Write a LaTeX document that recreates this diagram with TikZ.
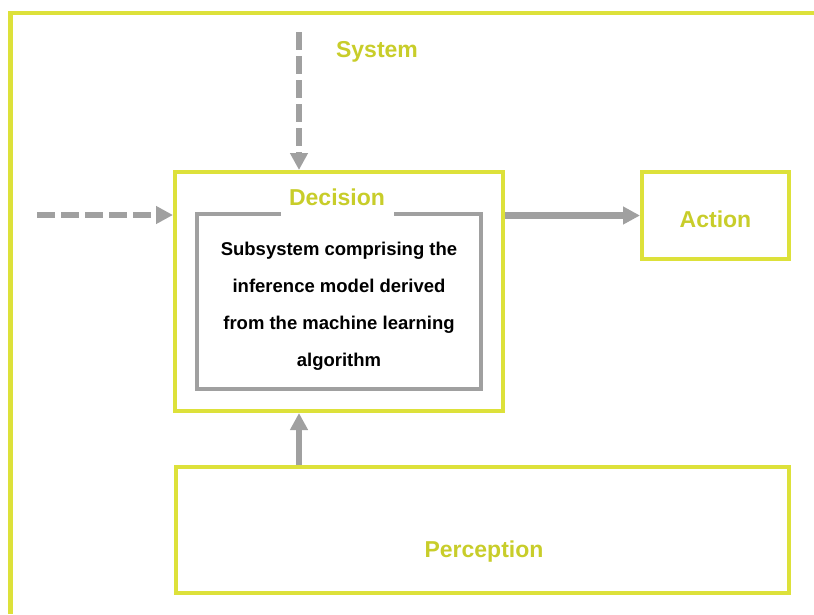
\documentclass[tikz,border=0pt]{standalone}
\usepackage{fontspec}
\setmainfont{Liberation Sans}
\usetikzlibrary{arrows.meta}

\definecolor{lime}{HTML}{DDE13A}
\definecolor{limetext}{HTML}{C8CD2A}
\definecolor{greyline}{HTML}{A0A0A0}

\tikzset{
  box/.style={draw=lime, line width=4pt, minimum width=#1},
  title/.style={text=limetext, font=\bfseries\fontsize{23}{27}\selectfont},
  arr/.style={draw=greyline, line width=6.5pt, -{Triangle[length=17pt, width=17pt]}},
  dasharr/.style={arr, dash pattern=on 18pt off 6pt}
}

\begin{document}
\begin{tikzpicture}[x=1pt, y=-1pt]
    \useasboundingbox (0,0) rectangle (814,614);
    % outer frame, cut at the page edge
    \draw[lime, line width=4.5pt] (10.5,614) |- (814,13);

    \node[box=328pt, minimum height=239pt] (dec) at (339,291.5) {};
    \node[draw=greyline, line width=4.5pt, minimum width=284pt, minimum height=175pt] (model) at (339,301.5) {};
    \node[align=center, font=\bfseries\fontsize{18.5}{37}\selectfont] (modeltext) at (339,306)
          {Subsystem comprising the\\inference model derived\\from the machine learning\\algorithm};
    \node[title, fill=white, minimum width=113pt, minimum height=40pt, inner sep=0pt] (declabel) at (337,197) {Decision};
    \node[box=147pt, minimum height=87pt, title, text height=25pt] (act) at (715.5,215.5) {Action};
    \node[box=613pt, minimum height=126pt] (perc) at (482.5,530) {};
    \node[title] (perclabel) at (484,552) {Perception};
    \node[title] (sys) at (377,52) {System};

    \coordinate (sysin) at (299,32);
    \coordinate (extin) at (37,215);

    \draw[dasharr] (sysin) -- (sysin |- dec.north);
    \draw[dasharr] (extin) -- (extin -| dec.west);
    \draw[arr] (act.west -| dec.east) -- (act.west);
    \draw[arr] (perc.north -| sysin) -- (dec.south -| sysin);
\end{tikzpicture}
\end{document}
